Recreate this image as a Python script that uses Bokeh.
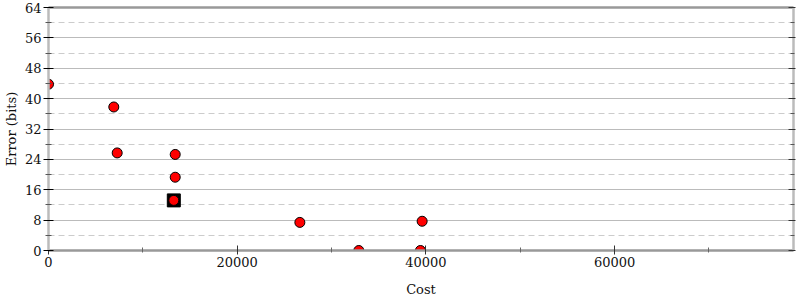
from bokeh.plotting import figure
from bokeh.models import Range1d, FixedTicker, LinearAxis, CustomJSTickFormatter
from bokeh.embed import file_html
from bokeh.resources import INLINE

cost = [0, 6920, 7280, 13430, 13430, 13280, 26640, 32890, 39420, 39600]
error = [43.8, 37.8, 25.7, 25.3, 19.3, 13.2, 7.4, 0.0, 0.0, 7.7]
sel_cost = [13280]
sel_error = [13.2]
x_ticks = [0, 20000, 40000, 60000]
x_minor = [10000, 30000, 50000, 70000]
y_ticks = [0, 8, 16, 24, 32, 40, 48, 56, 64]
y_minor = [4, 12, 20, 28, 36, 44, 52, 60]

FONT = "DejaVu Serif"

p = figure(width=800, height=300, output_backend="svg", toolbar_location=None,
           x_range=Range1d(0, 78960), y_range=Range1d(0, 64),
           min_border_left=48, min_border_right=7, min_border_top=7, min_border_bottom=50,
           outline_line_color=None, background_fill_color="white", border_fill_color="white")

p.xgrid.visible = False
p.ygrid.ticker = FixedTicker(ticks=y_ticks, minor_ticks=y_minor)
p.ygrid.grid_line_color = "#bbbbbb"
p.ygrid.grid_line_width = 1
p.ygrid.minor_grid_line_color = "#cccccc"
p.ygrid.minor_grid_line_dash = "6 4"

xa = p.xaxis[0]
xa.ticker = FixedTicker(ticks=x_ticks, minor_ticks=x_minor)
xa.axis_label = "Cost"
xa.axis_line_color = "#999999"
xa.axis_line_width = 2.5
xa.major_tick_line_color = "#333333"
xa.major_tick_in = 5
xa.major_tick_out = 4
xa.minor_tick_line_color = "#666666"
xa.minor_tick_in = 3
xa.minor_tick_out = 2

ya = p.yaxis[0]
ya.ticker = FixedTicker(ticks=y_ticks, minor_ticks=y_minor)
ya.axis_label = "Error (bits)"
ya.axis_line_color = "#bbbbbb"
ya.axis_line_width = 2.5
ya.major_tick_line_color = "black"
ya.major_tick_in = 5
ya.major_tick_out = 5
ya.minor_tick_line_color = "#555555"
ya.minor_tick_in = 3
ya.minor_tick_out = 3

for ax in (xa, ya):
    ax.major_label_text_font = FONT
    ax.major_label_text_font_size = "13px"
    ax.major_label_text_color = "#111111"
    ax.axis_label_text_font = FONT
    ax.axis_label_text_font_size = "13px"
    ax.axis_label_text_font_style = "normal"
    ax.axis_label_text_color = "#111111"

xa.major_label_standoff = 2
ya.major_label_standoff = 2
xa.axis_label_standoff = 12
ya.axis_label_standoff = 3

empty = CustomJSTickFormatter(code="return ''")

ra = LinearAxis(ticker=FixedTicker(ticks=y_ticks, minor_ticks=y_minor),
                formatter=empty, axis_line_color="#bbbbbb",
                axis_line_width=2.5, major_tick_line_color="#333333",
                major_tick_in=5, major_tick_out=2, minor_tick_line_color="#555555",
                minor_tick_in=3, minor_tick_out=1, major_label_standoff=0)
p.add_layout(ra, "right")

ta = LinearAxis(ticker=FixedTicker(ticks=[]), formatter=empty,
                axis_line_color="#999999", axis_line_width=2.5,
                major_tick_line_color=None, minor_tick_line_color=None, major_label_standoff=0)
p.add_layout(ta, "above")

p.scatter(sel_cost, sel_error, marker="square", size=13, fill_color="black", line_color="black")
p.scatter(cost, error, marker="circle", size=10, fill_color="red", line_color="black", line_width=1)

open("out.html", "w").write(file_html(p, INLINE))
